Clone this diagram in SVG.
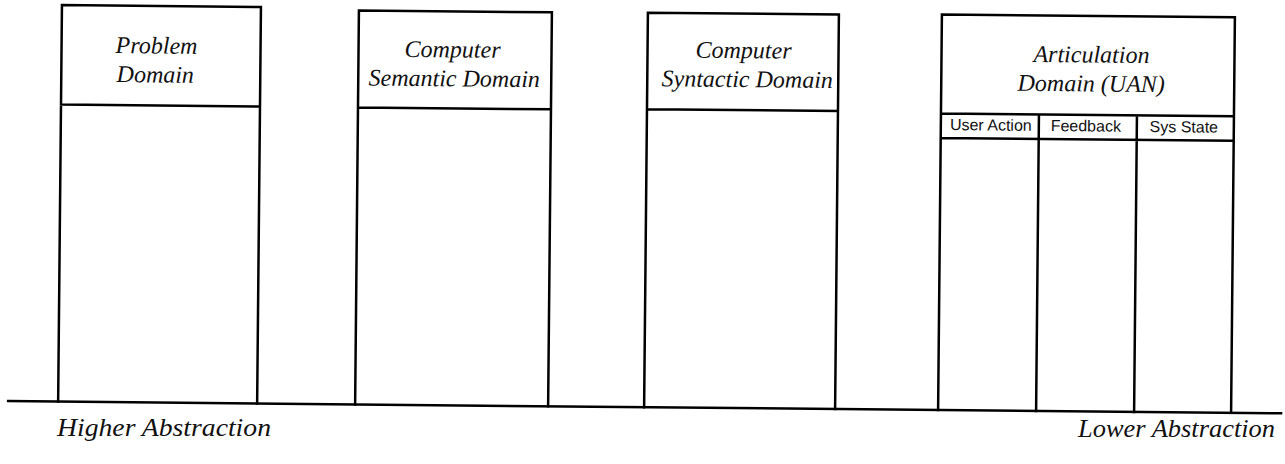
<svg xmlns="http://www.w3.org/2000/svg" width="1285" height="464" viewBox="0 0 1285 464">
<style>
.ln{stroke:#000;stroke-width:2.5;fill:none;stroke-linecap:square}
.hd{font-family:"Liberation Serif",serif;font-style:italic;font-size:24px;fill:#111;text-anchor:middle}
.col{font-family:"Liberation Sans",Arial,sans-serif;font-size:16px;fill:#111;text-anchor:middle}
.lbl{font-family:"Liberation Serif",serif;font-style:italic;font-size:25px;fill:#111}
</style>
<rect width="1285" height="464" fill="#fff"/>
<g transform="rotate(0.55)">
<g id="connectors">
<line class="ln" x1="12" y1="401" x2="1285" y2="401"/>
</g>
<g id="problem-domain">
<path class="ln" d="M62,401 V4.5 H261 V401 M62,104 H261"/>
<text class="hd" x="157" y="52">Problem</text>
<text class="hd" x="156" y="81">Domain</text>
</g>
<g id="computer-semantic-domain">
<path class="ln" d="M359,401 V7 H552 V401 M359,104 H552"/>
<text class="hd" x="453" y="53">Computer</text>
<text class="hd" x="455" y="82">Semantic Domain</text>
</g>
<g id="computer-syntactic-domain">
<path class="ln" d="M648,401 V6.5 H839 V401 M648,103 H839"/>
<text class="hd" x="744" y="51">Computer</text>
<text class="hd" x="748" y="80">Syntactic Domain</text>
</g>
<g id="articulation-domain">
<path class="ln" d="M942,401 V5.5 H1235 V401 M942,104.5 H1235 M942,129 H1235 M1040,104.5 V401 M1138,104.5 V401"/>
<text class="hd" x="1092" y="52">Articulation</text>
<text class="hd" x="1092" y="81">Domain (UAN)</text>
<text class="col" x="992" y="121">User Action</text>
<text class="col" x="1087" y="121">Feedback</text>
<text class="col" x="1185" y="121">Sys State</text>
</g>
</g>
<g id="labels">
<text class="lbl" x="57" y="436" textLength="214" lengthAdjust="spacingAndGlyphs">Higher Abstraction</text>
<text class="lbl" x="1078" y="437" textLength="197" lengthAdjust="spacingAndGlyphs">Lower Abstraction</text>
</g>
</svg>
